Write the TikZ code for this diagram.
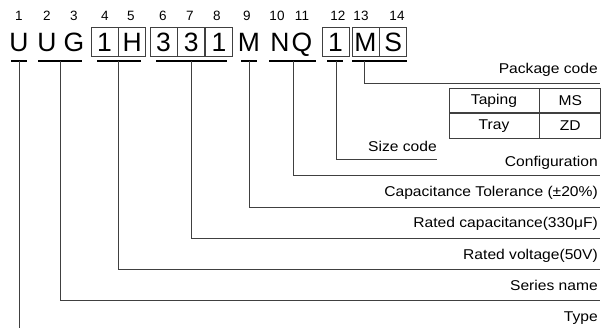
\documentclass[tikz,border=0pt]{standalone}
\usepackage{fontspec}
\setmainfont{Liberation Sans}
\newfontfamily\wide[FakeStretch=1.1]{Liberation Sans}
\usetikzlibrary{positioning}
\tikzset{chr/.style={inner sep=0pt,text height=21pt,text depth=0pt,minimum width=27pt,minimum height=29pt,font=\fontsize{26.5}{26.5}\selectfont},
  box/.style={chr,draw=black!75,line width=0.8pt},
  num/.style={inner sep=0pt,anchor=base,font=\fontsize{13.5}{13.5}\selectfont},
  lbl/.style={anchor=south east,inner xsep=2pt,inner ysep=5.5pt,text depth=3.5pt,font=\wide\fontsize{14.2}{14.2}\selectfont},
  cell/.style={draw=black!75,line width=0.8pt,inner sep=0pt,minimum height=24.5pt,font=\wide\fontsize{14.2}{14.2}\selectfont},
  bar/.style={line width=2.4pt},
  lead/.style={draw=black!75,line width=0.8pt}}

\begin{document}
\begin{tikzpicture}[x=1pt,y=-1pt]
  \useasboundingbox (0,0) rectangle (614,329);
  % digit positions
  \foreach \x/\t [count=\i] in {19/1,47/2,74/3,105/4,131/5,163/6,190/7,217/8,247/9,277/10,302/11,338/12,361/13,397/14}
    \node[num] (n\i) at (\x,21) {\t};
  % part number
  \node[chr] (c1) at (19,41.5) {U};
  \node[chr] (c2) at (47,41.5) {U};
  \node[chr] (c3) at (74,41.5) {G};
  \node[box] (c4) at (104.5,41.5) {1};
  \node[box, right=0pt of c4] (c5) {H};
  \node[box] (c6) at (163.5,41.5) {3};
  \node[box, right=0pt of c6] (c7) {3};
  \node[box, right=0pt of c7] (c8) {1};
  \node[chr] (c9) at (249,41.5) {M};
  \node[chr] (c10) at (280,41.5) {N};
  \node[chr] (c11) at (302,41.5) {Q};
  \node[box] (c12) at (335.5,41.5) {1};
  \node[box] (c13) at (365.5,41.5) {M};
  \node[box, right=0pt of c13] (c14) {S};
  % underlines
  \draw[bar] (11,61) -- (27,61);
  \draw[bar] (38,61) -- (82,61);
  \draw[bar] (97,61) -- (141,61);
  \draw[bar] (156,61) -- (227,61);
  \draw[bar] (241,61) -- (257,61);
  \draw[bar] (269,61) -- (316,61);
  \draw[bar] (327,61) -- (343,61);
  \draw[bar] (352,61) -- (407,61);
  \coordinate (s1) at (19,61);
  \coordinate (s2) at (60,61);
  \coordinate (s3) at (118,61);
  \coordinate (s4) at (191,61);
  \coordinate (s5) at (249,61);
  \coordinate (s6) at (293,61);
  \coordinate (s7) at (336,61);
  \coordinate (s8) at (364,61);
  % labels
  \node[lbl] (pkg) at (600,83) {Package code};
  \node[lbl, inner xsep=0pt, inner ysep=3.5pt] (size) at (437,159) {Size code};
  \node[lbl, inner ysep=4.5pt] (conf) at (600,175) {Configuration};
  \node[lbl, inner ysep=6.5pt] (tol) at (600,207) {Capacitance Tolerance (±20\%)};
  \node[lbl, inner ysep=6.5pt] (cap) at (600,238) {Rated capacitance(330μF)};
  \node[lbl] (volt) at (600,269) {Rated voltage(50V)};
  \node[lbl] (ser) at (600,300) {Series name};
  \node[lbl] (type) at (600,331) {Type};
  \coordinate (tend) at (19,328);
  % package table
  \node[cell, minimum width=90pt] (tap) at (494,100.5) {Taping};
  \node[cell, minimum width=61pt, right=0pt of tap] (ms) {MS};
  \node[cell, minimum width=90pt, below=0pt of tap] (tray) {Tray};
  \node[cell, minimum width=61pt, right=0pt of tray] (zd) {ZD};
  % leaders
  \draw[lead] (s8) |- (pkg.south east);
  \draw[lead] (s7) |- (size.south east);
  \draw[lead] (s6) |- (conf.south east);
  \draw[lead] (s5) |- (tol.south east);
  \draw[lead] (s4) |- (cap.south east);
  \draw[lead] (s3) |- (volt.south east);
  \draw[lead] (s2) |- (ser.south east);
  \draw[lead] (s1) -- (tend);
\end{tikzpicture}
\end{document}
